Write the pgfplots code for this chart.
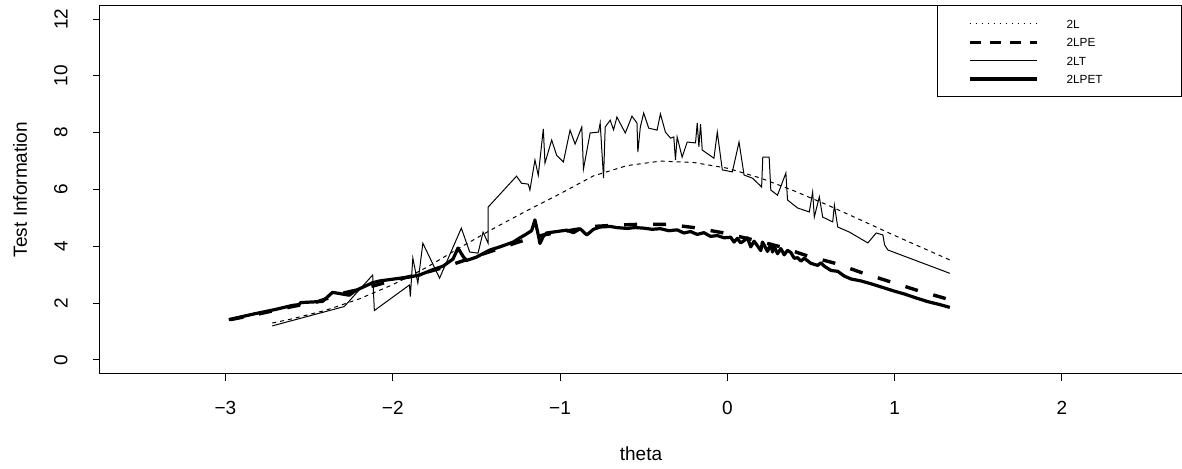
\documentclass[border=0pt]{standalone}
\usepackage{fontspec}
\setmainfont{Liberation Sans}
\usepackage{pgfplots}
\pgfplotsset{compat=1.18}
\begin{document}
\begin{tikzpicture}
\begin{axis}[
  at={(0pt,0pt)}, anchor=south west,
  scale only axis, width=541pt, height=184.1pt,
  xmin=-3.75, xmax=2.718, ymin=-0.48, ymax=12.48,
  xtick={-3,-2,-1,0,1,2},
  xticklabels={−3,−2,−1,0,1,2},
  ytick={0,2,4,6,8,10,12},
  yticklabels={0,2,4,6,8,10,12},
  xtick pos=left, ytick pos=left,
  tick align=outside, major tick length=3.5pt,
  tick style={black, line width=0.5pt},
  axis line style={line width=0.5pt},
  ticklabel style={font=\fontsize{9.5}{11}\selectfont},
  xticklabel style={anchor=north, inner sep=0pt, yshift=-10pt},
  yticklabel style={rotate=90, anchor=south, inner sep=0pt, yshift=12.5pt},
  every axis x label/.style={at={(axis description cs:0.5,-0.2347)}, anchor=base, font=\fontsize{9.5}{11}\selectfont},
  every axis y label/.style={at={(axis description cs:-0.0675,0.5)}, rotate=90, anchor=base, font=\fontsize{9.5}{11}\selectfont},
  xlabel={theta}, ylabel={Test Information},
  legend image code/.code={\draw[#1] (0pt,0pt) -- (33.5pt,0pt);},
  legend cell align=left,
  legend style={at={(1,1)}, anchor=north east, draw=black, line width=0.5pt,
    font=\fontsize{5.9}{7}\selectfont, inner xsep=15.5pt, inner ysep=6.7pt,
    row sep=4.7pt, column sep=14pt,
    nodes={inner sep=0pt, text height=4.5pt, text depth=0pt}},
]
% 2L
\addplot[black, line width=0.5pt, dash pattern=on 2pt off 2pt,
  legend image code/.code={\draw[black, line width=0.5pt, dash pattern=on 0.6pt off 2.4pt] (0pt,0pt) -- (33.5pt,0pt);}] coordinates {
(-2.72,1.30) (-2.6,1.45) (-2.4,1.75) (-2.2,2.15) (-2.0,2.65) (-1.8,3.25) (-1.6,3.95)
(-1.4,4.62) (-1.2,5.25) (-1.0,5.85) (-0.8,6.48) (-0.6,6.84) (-0.4,7.0) (-0.2,6.95)
(0.0,6.75) (0.2,6.40) (0.4,5.95) (0.6,5.45) (0.8,4.92) (1.0,4.38) (1.2,3.86) (1.33,3.52)
};
\addlegendentry{\makebox[42pt][l]{2L}}
% 2LPE
\addplot[black, line width=1.7pt, dash pattern=on 6.5pt off 8pt,
  legend image code/.code={\draw[black, line width=1.7pt, dash pattern=on 5.5pt off 4.5pt] (0pt,0pt) -- (33.5pt,0pt);}] coordinates {
(-2.97,1.42) (-2.8,1.62) (-2.6,1.88) (-2.45,2.05) (-2.3,2.35) (-2.15,2.55) (-2.0,2.8)
(-1.85,3.0) (-1.7,3.25) (-1.55,3.55) (-1.4,3.85) (-1.25,4.15) (-1.1,4.4) (-0.95,4.55)
(-0.8,4.7) (-0.65,4.75) (-0.5,4.78) (-0.35,4.77) (-0.2,4.66) (-0.02,4.47) (0.16,4.22)
(0.32,3.98) (0.48,3.66) (0.64,3.41) (0.81,3.06) (0.97,2.76) (1.13,2.46) (1.33,2.12)
};
\addlegendentry{2LPE}
% 2LT
\addplot[black, line width=0.5pt] coordinates {
(-2.72,1.20) (-2.29,1.88) (-2.12,2.99) (-2.11,1.74) (-1.90,2.64) (-1.895,2.23) (-1.88,3.59)
(-1.85,2.71) (-1.82,4.11) (-1.72,2.88) (-1.59,4.64) (-1.54,3.80) (-1.49,3.76) (-1.46,4.5)
(-1.43,4.11) (-1.43,5.38) (-1.26,6.47) (-1.23,6.22) (-1.19,6.19) (-1.18,5.98) (-1.15,7.04)
(-1.13,6.50) (-1.10,8.13) (-1.09,6.93) (-1.05,7.74) (-1.02,7.20) (-0.98,6.97) (-0.94,8.09)
(-0.91,7.60) (-0.87,8.20) (-0.86,6.72) (-0.82,7.99) (-0.77,8.02) (-0.76,8.34) (-0.74,6.40)
(-0.73,8.20) (-0.70,8.44) (-0.68,8.10) (-0.66,8.55) (-0.61,7.99) (-0.57,8.58) (-0.54,8.34)
(-0.535,7.32) (-0.52,8.20) (-0.50,8.69) (-0.47,8.16) (-0.42,8.09) (-0.40,8.66) (-0.37,8.02)
(-0.34,7.81) (-0.32,7.85) (-0.31,7.04) (-0.30,7.85) (-0.27,7.14) (-0.24,7.67) (-0.19,7.64)
(-0.18,8.34) (-0.17,7.50) (-0.16,8.30) (-0.15,7.39) (-0.08,7.10) (-0.06,8.02) (-0.03,6.69)
(0.03,6.62) (0.07,7.67) (0.10,6.51) (0.15,6.40) (0.205,6.09) (0.212,7.14) (0.25,7.14)
(0.26,5.98) (0.30,5.80) (0.35,6.58) (0.36,5.63) (0.42,5.35) (0.49,5.21) (0.51,5.91)
(0.52,5.03) (0.55,5.74) (0.57,5.03) (0.63,4.86) (0.64,5.45) (0.66,4.68) (0.73,4.50)
(0.84,4.12) (0.89,4.47) (0.93,4.40) (0.94,4.05) (0.96,3.87) (1.33,3.05)
};
\addlegendentry{2LT}
% 2LPET
\addplot[black, line width=1.6pt, line join=round] coordinates {
(-2.98,1.42) (-2.83,1.62) (-2.70,1.78) (-2.60,1.92) (-2.56,1.95) (-2.55,2.02) (-2.42,2.06)
(-2.36,2.38) (-2.30,2.32) (-2.26,2.28) (-2.22,2.45) (-2.12,2.72) (-2.08,2.78) (-1.98,2.86)
(-1.90,2.92) (-1.84,2.99) (-1.76,3.18) (-1.70,3.30) (-1.64,3.55) (-1.61,3.94) (-1.58,3.65)
(-1.56,3.50) (-1.50,3.62) (-1.42,3.87) (-1.36,3.98) (-1.28,4.15) (-1.24,4.30) (-1.21,4.40)
(-1.17,4.55) (-1.15,4.93) (-1.13,4.40) (-1.12,4.10) (-1.10,4.35) (-1.08,4.47) (-1.02,4.52)
(-0.96,4.57) (-0.92,4.48) (-0.88,4.62) (-0.84,4.40) (-0.80,4.60) (-0.76,4.68) (-0.70,4.70)
(-0.66,4.66) (-0.60,4.63) (-0.55,4.66) (-0.50,4.64) (-0.45,4.60) (-0.40,4.62) (-0.35,4.55)
(-0.30,4.58) (-0.26,4.47) (-0.22,4.52) (-0.18,4.42) (-0.14,4.48) (-0.10,4.35) (-0.06,4.38)
(-0.02,4.30) (0.02,4.32) (0.04,4.15) (0.06,4.28) (0.08,4.12) (0.10,4.20) (0.12,4.30)
(0.14,3.98) (0.16,4.18) (0.18,4.02) (0.20,3.85) (0.21,4.15) (0.22,4.05) (0.24,3.82)
(0.26,4.08) (0.27,3.80) (0.28,4.00) (0.30,3.74) (0.32,3.92) (0.34,3.70) (0.36,3.86)
(0.38,3.78) (0.40,3.58) (0.42,3.60) (0.44,3.48) (0.46,3.58) (0.50,3.40) (0.54,3.33)
(0.56,3.42) (0.58,3.30) (0.62,3.15) (0.66,3.12) (0.70,2.95) (0.74,2.85) (0.80,2.78)
(0.86,2.68) (0.93,2.55) (1.00,2.42) (1.06,2.32) (1.13,2.18) (1.20,2.05) (1.27,1.95) (1.33,1.85)
};
\addlegendentry{2LPET}
\end{axis}
\pgfresetboundingbox
\useasboundingbox (-50pt,-47.2pt) rectangle (541pt,186.8pt);
\end{tikzpicture}
\end{document}
